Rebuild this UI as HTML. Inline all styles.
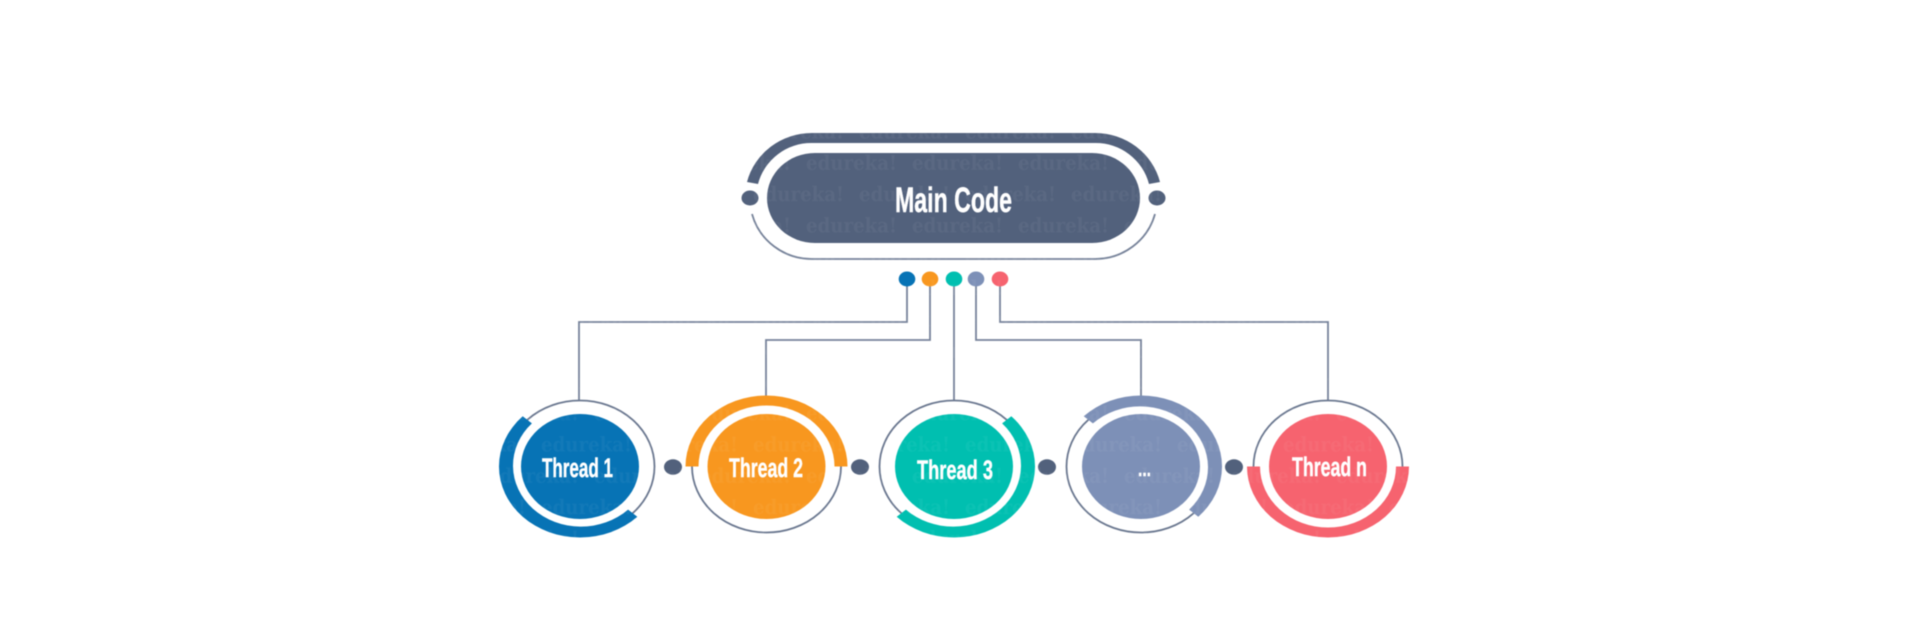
<!DOCTYPE html>
<html lang="en">
<head>
<meta charset="utf-8">
<title>Main Code and Threads</title>
<style>
html,body{margin:0;padding:0;background:#fff;width:1919px;height:633px;overflow:hidden}
svg{display:block;filter:blur(.55px)}
.lab{font-family:"Liberation Sans",sans-serif;font-weight:700;fill:#fff;stroke:#fff;stroke-width:.45px}
.wm{font-family:"DejaVu Serif","Liberation Serif",serif;font-weight:700;font-size:20px;fill:#fff}
</style>
</head>
<body>
<svg width="1919" height="633" viewBox="0 0 1919 633" xmlns="http://www.w3.org/2000/svg">
<defs>
<pattern id="wm" patternUnits="userSpaceOnUse" width="106" height="62.6" patternTransform="translate(64,140)">
<text class="wm" x="0" y="30" textLength="91" lengthAdjust="spacingAndGlyphs">edureka!</text>
<text class="wm" x="-53" y="61.3" textLength="91" lengthAdjust="spacingAndGlyphs">edureka!</text>
<text class="wm" x="53" y="61.3" textLength="91" lengthAdjust="spacingAndGlyphs">edureka!</text>
</pattern>
</defs>
<rect width="1919" height="633" fill="#fff"/>

<!-- connectors -->
<g fill="none" stroke="#77839a" stroke-width="1.8">
<path d="M907 279V322H579V400"/>
<path d="M930 279V340H766V396"/>
<path d="M954 279V400"/>
<path d="M976 279V340H1141V396"/>
<path d="M1000 279V322H1328V400"/>
</g>

<!-- main node -->
<rect x="767" y="153" width="373" height="90" rx="48" ry="45" fill="#52617c"/>
<path d="M747 182A67 65 0 0 1 812 133H1095A67 65 0 0 1 1160 182L1149 184A55 55 0 0 0 1095 143H812A55 55 0 0 0 758 184Z" fill="#52617c"/>
<path d="M752 214A62 61 0 0 0 812 259H1095A62 61 0 0 0 1155 214" fill="none" stroke="#77839a" stroke-width="1.8"/>
<ellipse cx="750" cy="198" rx="8.5" ry="7.5" fill="#52617c"/>
<ellipse cx="1157" cy="198" rx="8.5" ry="7.5" fill="#52617c"/>

<!-- colour dots -->
<ellipse cx="907" cy="279" rx="8.3" ry="7.5" fill="#0773b5"/>
<ellipse cx="930" cy="279" rx="8.3" ry="7.5" fill="#f8971f"/>
<ellipse cx="954" cy="279" rx="8.3" ry="7.5" fill="#00bfb0"/>
<ellipse cx="976" cy="279" rx="8.3" ry="7.5" fill="#7d90b7"/>
<ellipse cx="1000" cy="279" rx="8.3" ry="7.5" fill="#f6636f"/>

<!-- thread 1 -->
<g transform="translate(580,466.5)">
<ellipse rx="74.5" ry="66" fill="none" stroke="#6b7890" stroke-width="1.8"/>
<path d="M57.3 50.2A81 71 0 0 1 -57.3 -50.2L-48.1 -43.1A68 61 0 0 0 48.1 43.1Z" fill="#0773b5"/>
<ellipse rx="59" ry="52.5" fill="#0773b5"/>
</g>
<!-- thread 2 -->
<g transform="translate(766.5,466.5)">
<ellipse rx="74.5" ry="66" fill="none" stroke="#6b7890" stroke-width="1.8"/>
<path d="M-81 0A81 71 0 0 1 81 0L68 0A68 61 0 0 0 -68 0Z" fill="#f8971f"/>
<ellipse rx="59" ry="52.5" fill="#f8971f"/>
</g>
<!-- thread 3 -->
<g transform="translate(954,466.5)">
<ellipse rx="74.5" ry="66" fill="none" stroke="#6b7890" stroke-width="1.8"/>
<path d="M57.3 -50.2A81 71 0 0 1 -57.3 50.2L-48.1 43.1A68 61 0 0 0 48.1 -43.1Z" fill="#00bfb0"/>
<ellipse rx="59" ry="52.5" fill="#00bfb0"/>
</g>
<!-- thread dots -->
<g transform="translate(1141,466.5)">
<ellipse rx="74.5" ry="66" fill="none" stroke="#6b7890" stroke-width="1.8"/>
<path d="M-57.3 -50.2A81 71 0 0 1 57.3 50.2L48.1 43.1A68 61 0 0 0 -48.1 -43.1Z" fill="#7d90b7"/>
<ellipse rx="59" ry="52.5" fill="#7d90b7"/>
</g>
<!-- thread n -->
<g transform="translate(1328,466.5)">
<ellipse rx="74.5" ry="66" fill="none" stroke="#6b7890" stroke-width="1.8"/>
<path d="M81 0A81 71 0 0 1 -81 0L-68 0A68 61 0 0 0 68 0Z" fill="#f6636f"/>
<ellipse rx="59" ry="52.5" fill="#f6636f"/>
</g>

<!-- connector dots -->
<ellipse cx="673" cy="467" rx="9" ry="7.7" fill="#52617c"/>
<ellipse cx="860" cy="467" rx="9" ry="7.7" fill="#52617c"/>
<ellipse cx="1047" cy="467" rx="9" ry="7.7" fill="#52617c"/>
<ellipse cx="1234" cy="467" rx="9" ry="7.7" fill="#52617c"/>

<!-- watermark: white, only visible over coloured shapes -->
<rect x="480" y="125" width="960" height="420" fill="url(#wm)" opacity="0.045"/>

<!-- labels -->
<text class="lab" x="895" y="212" font-size="35" textLength="117" lengthAdjust="spacingAndGlyphs">Main Code</text>
<text class="lab" x="542" y="477" font-size="27" textLength="71" lengthAdjust="spacingAndGlyphs">Thread 1</text>
<text class="lab" x="729" y="477" font-size="27" textLength="74" lengthAdjust="spacingAndGlyphs">Thread 2</text>
<text class="lab" x="917" y="479" font-size="27" textLength="76" lengthAdjust="spacingAndGlyphs">Thread 3</text>
<text class="lab" x="1138" y="476" font-size="20" textLength="13" lengthAdjust="spacingAndGlyphs">...</text>
<text class="lab" x="1292" y="476" font-size="27" textLength="75" lengthAdjust="spacingAndGlyphs">Thread n</text>
</svg>
</body>
</html>
